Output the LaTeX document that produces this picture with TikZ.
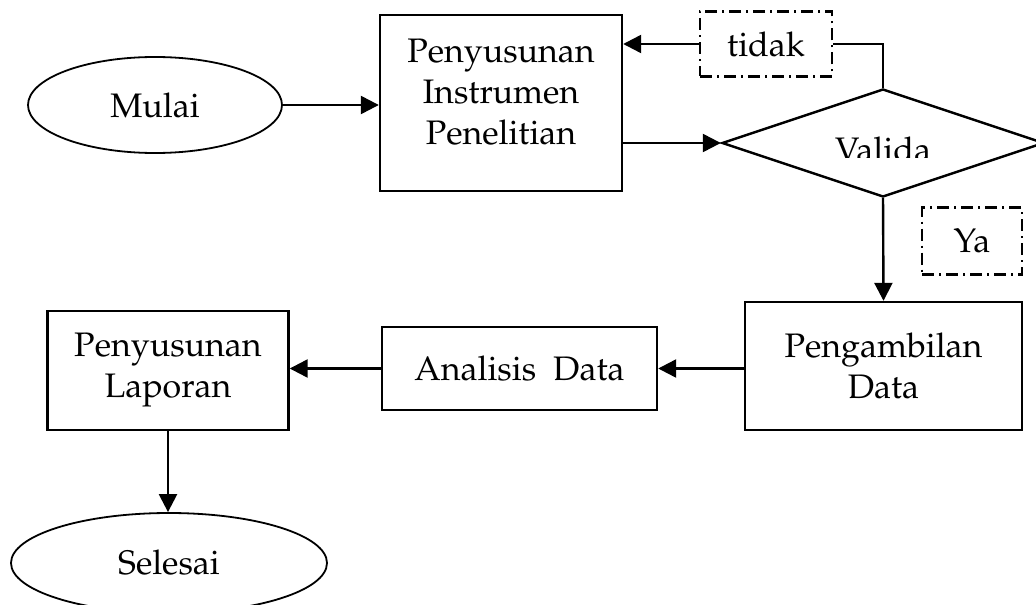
\documentclass[tikz,border=0pt]{standalone}
\usepackage[T1]{fontenc}
\usepackage{mathpazo}
\usepackage{tikz}
\usetikzlibrary{arrows.meta,positioning,shapes.geometric}
\tikzset{
  flowln/.style={-{Triangle[length=9pt,width=9pt]}, line width=1.2pt},
  procbox/.style={draw, line width=1.2pt, rectangle, align=center, inner sep=0pt},
  termnode/.style={draw, line width=0.9pt, ellipse, inner sep=0pt},
  notebox/.style={draw, line width=1.1pt, dash pattern=on 6pt off 2.5pt on 1pt off 2.5pt, inner sep=0pt},
}

\begin{document}
\begin{tikzpicture}[x=0.5pt, y=-0.5pt, font=\fontsize{17}{20.5}\selectfont]
  \useasboundingbox (0,0) rectangle (1036,604);
  \clip (0,0) rectangle (1036,604);
  % terminals
  \node[termnode, minimum width=127pt, minimum height=48pt] (mulai) at (155,105) {Mulai};
  \node[termnode, minimum width=158pt, minimum height=50pt] (selesai) at (169,563) {Selesai};
  % process boxes
  \node[procbox, minimum width=121pt, minimum height=88pt] (instr) at (501,103) {};
  \node[align=center, inner sep=0pt] (instrtxt) at (501,92) {Penyusunan\\Instrumen\\Penelitian};
  \node[procbox, minimum width=138.5pt, minimum height=64pt] (ambil) at (883.5,366) {Pengambilan\\Data};
  \node[procbox, minimum width=137.5pt, minimum height=41.5pt] (analisis) at (519.5,368.5) {Analisis\ \ Data};
  \node[procbox, minimum width=120.5pt, minimum height=59.5pt] (laporan) at (168,370.5) {Penyusunan\\Laporan};
  % decision, label cut at the bottom as in the source
  \node[draw, line width=1.2pt, diamond, aspect=3, minimum width=161pt, minimum height=54pt, inner sep=0pt] (valid) at (883,143) {};
  \begin{scope}
    \clip (720,100) rectangle (1036,158);
    \node[anchor=base, inner sep=0pt] (validtxt) at (883,162) {Valida};
  \end{scope}
  % answer labels
  \node[notebox, minimum width=66pt, minimum height=32.5pt] (tidak) at (766,44) {tidak};
  \node[notebox, minimum width=50pt, minimum height=33.5pt] (ya) at (972,241) {Ya};
  % connectors
  \draw[flowln] (mulai.east) -- (mulai.east -| instr.west);
  \draw[flowln] (valid.west -| instr.east) -- (valid.west);
  \draw[line width=1.2pt] (valid.north) |- (tidak.east);
  \draw[flowln] (tidak.west) -- (tidak.west -| instr.east);
  \draw[flowln] (valid.south) -- (ambil.north);
  \draw[flowln] (ambil.west |- analisis.east) -- (analisis.east);
  \draw[flowln] (analisis.west) -- (analisis.west -| laporan.east);
  \draw[flowln] (laporan.south) -- (laporan.south |- selesai.north);
\end{tikzpicture}
\end{document}
